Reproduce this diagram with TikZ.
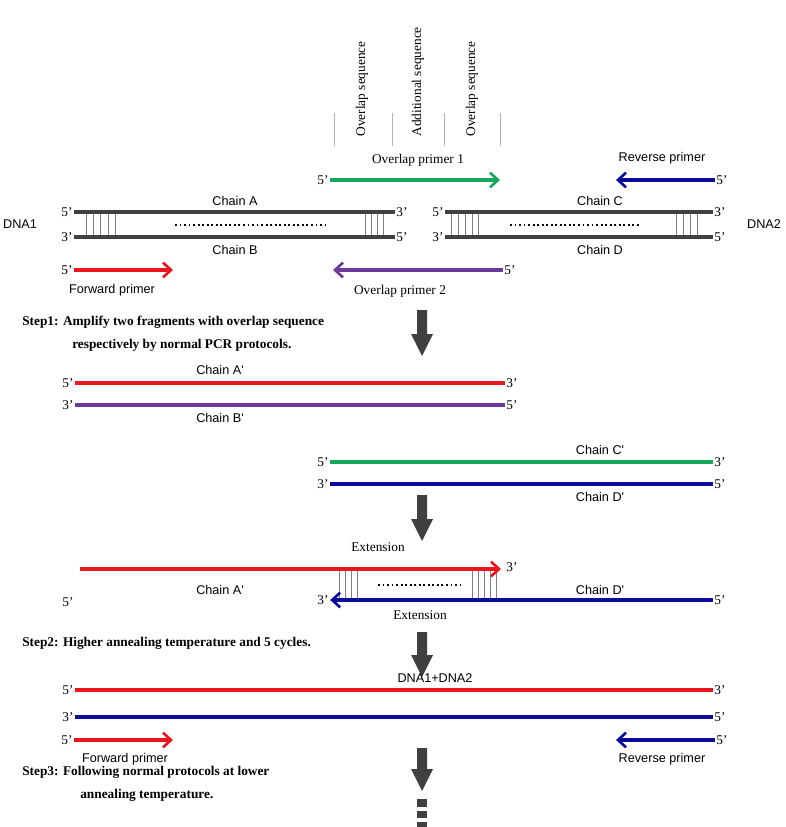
\documentclass[tikz,border=0pt]{standalone}
\usepackage{fontspec}
\setmainfont{Liberation Serif}
\newfontfamily\mysans{Liberation Sans}
\usetikzlibrary{arrows.meta}
\definecolor{cred}{HTML}{E8171E}
\definecolor{cgreen}{HTML}{16A85A}
\definecolor{cblue}{HTML}{0C0C9C}
\definecolor{cpurple}{HTML}{6C3A9C}
\definecolor{cdark}{HTML}{404040}
\begin{document}
\begin{tikzpicture}[x=0.75pt,y=-0.75pt,
 lab/.style={font=\fontsize{10}{12}\selectfont,inner sep=1pt},
 slab/.style={font=\mysans\fontsize{9.5}{11}\selectfont,inner sep=1pt},
 steptxt/.style={font=\bfseries\fontsize{10}{12}\selectfont,inner sep=0pt,anchor=west,align=left},
 strand/.style={line width=2.4pt},
 dna/.style={line width=2.6pt,cdark},
 prim/.style={line width=2.4pt,-{Straight Barb[length=6pt,width=11pt,line width=2pt]}},
 hatch/.style={gray,line width=0.5pt},
 dots/.style={line width=1.4pt,dotted},
 tick/.style={gray!60,line width=0.6pt}]
\useasboundingbox (0,0) rectangle (785,827);
% block arrow macro
\def\blockarrow#1#2#3{\fill[cdark] (#1-5,#2) -- (#1+5,#2) -- (#1+5,#3-22) -- (#1+11,#3-22) -- (#1,#3) -- (#1-11,#3-22) -- (#1-5,#3-22) -- cycle;}
% top labels
\foreach \x in {334,392,444,500} \draw[tick] (\x,113) -- (\x,146);
\node[lab,rotate=90,anchor=west] (ov1) at (362,138) {Overlap sequence};
\node[lab,rotate=90,anchor=west] (add) at (418,138) {Additional sequence};
\node[lab,rotate=90,anchor=west] (ov2) at (472,138) {Overlap sequence};
\node[lab] (op1) at (418,160) {Overlap primer 1};
\node[lab] (op1a) at (323,180) {5'};
\coordinate (op1b) at (500,180);
\draw[prim,cgreen] (op1a.east) -- (op1b);
\node[slab] (rp) at (662,158) {Reverse primer};
\node[lab] (rpa) at (722,180) {5'};
\coordinate (rpb) at (616,180);
\draw[prim,cblue] (rpa.west) -- (rpb);
% DNA1
\node[slab] (dna1) at (20,224) {DNA1};
\node[lab] (a5) at (67,212) {5'}; \node[lab] (b3) at (67,237) {3'};
\node[lab] (a3) at (402,212) {3'}; \node[lab] (b5) at (402,237) {5'};
\foreach \x in {86,93,100,108,115,365,371,377,383} \draw[hatch] (\x,212) -- (\x,237);
\draw[dna] (a5.east) -- (a3.west);
\draw[dna] (b3.east) -- (b5.west);
\draw[dots] (175,225) -- (326,225);
\node[slab] (ca) at (235,201) {Chain A};
\node[slab] (cb) at (235,250) {Chain B};
% DNA2
\node[slab] (dna2) at (764,224) {DNA2};
\node[lab] (c5) at (438,212) {5'}; \node[lab] (d3) at (438,237) {3'};
\node[lab] (c3) at (720,212) {3'}; \node[lab] (d5) at (720,237) {5'};
\foreach \x in {451,458,465,472,478,676,683,690,697} \draw[hatch] (\x,212) -- (\x,237);
\draw[dna] (c5.east) -- (c3.west);
\draw[dna] (d3.east) -- (d5.west);
\draw[dots] (510,225) -- (640,225);
\node[slab] (cc) at (600,201) {Chain C};
\node[slab] (cd) at (600,250) {Chain D};
% primers row
\node[lab] (fp5) at (67,270) {5'};
\coordinate (fpb) at (173,270);
\draw[prim,cred] (fp5.east) -- (fpb);
\node[slab] (fp) at (112,290) {Forward primer};
\node[lab] (op25) at (510,270) {5'};
\coordinate (op2b) at (333,270);
\draw[prim,cpurple] (op25.west) -- (op2b);
\node[lab] (op2) at (400,291) {Overlap primer 2};
% step1
\blockarrow{422}{310}{356}
\node[steptxt] (s1) at (22,322) {Step1: Amplify two fragments with overlap sequence};
\node[steptxt] (s1b) at (72,345) {respectively by normal PCR protocols.};
% fragments
\node[lab] (f1a) at (68,383) {5'}; \node[lab] (f1b) at (512,383) {3'};
\draw[strand,cred] (f1a.east) -- (f1b.west);
\node[slab] (cap) at (220,370) {Chain A'};
\node[lab] (f2a) at (68,405) {3'}; \node[lab] (f2b) at (512,405) {5'};
\draw[strand,cpurple] (f2a.east) -- (f2b.west);
\node[slab] (cbp) at (220,418) {Chain B'};
\node[lab] (f3a) at (323,462) {5'}; \node[lab] (f3b) at (720,462) {3'};
\draw[strand,cgreen] (f3a.east) -- (f3b.west);
\node[slab] (ccp) at (600,450) {Chain C'};
\node[lab] (f4a) at (323,484) {3'}; \node[lab] (f4b) at (720,484) {5'};
\draw[strand,cblue] (f4a.east) -- (f4b.west);
\node[slab] (cdp) at (600,497) {Chain D'};
\blockarrow{422}{495}{541}
% extension
\node[lab] (ext1) at (378,547) {Extension};
\foreach \x in {339,345,351,357,472,478,484,490,496} \draw[hatch] (\x,569) -- (\x,600);
\coordinate (e1a) at (80,569);
\node[lab] (e13) at (512,567) {3'};
\draw[prim,cred] (e1a) -- (501,569);
\node[lab] (e15) at (68,602) {5'};
\node[slab] (eca) at (220,590) {Chain A'};
\node[lab] (e25) at (720,600) {5'};
\node[lab] (e23) at (323,600) {3'};
\draw[prim,cblue] (e25.west) -- (e23.east);
\node[slab] (ecd) at (600,590) {Chain D'};
\draw[dots] (378,585) -- (460,585);
\node[lab] (ext2) at (420,615) {Extension};
% step2
\blockarrow{422}{632}{677}
\node[steptxt] (s2) at (22,643) {Step2: Higher annealing temperature and 5 cycles.};
\node[slab] (dd) at (435,678) {DNA1+DNA2};
\node[lab] (g1a) at (68,690) {5'}; \node[lab] (g1b) at (720,690) {3'};
\draw[strand,cred] (g1a.east) -- (g1b.west);
\node[lab] (g2a) at (68,717) {3'}; \node[lab] (g2b) at (720,717) {5'};
\draw[strand,cblue] (g2a.east) -- (g2b.west);
\node[lab] (h5) at (67,740) {5'};
\coordinate (hb) at (173,740);
\draw[prim,cred] (h5.east) -- (hb);
\node[slab] (fp2) at (125,759) {Forward primer};
\node[lab] (r5) at (722,740) {5'};
\coordinate (rb) at (616,740);
\draw[prim,cblue] (r5.west) -- (rb);
\node[slab] (rp2) at (662,759) {Reverse primer};
% step3
\blockarrow{422}{748}{791}
\foreach \a/\b in {799/807,811/818,822/827} \draw[cdark,line width=7.5pt] (422,\a) -- (422,\b);
\node[steptxt] (s3) at (22,772) {Step3: Following normal protocols at lower};
\node[steptxt] (s3b) at (80,795) {annealing temperature.};
\end{tikzpicture}
\end{document}
